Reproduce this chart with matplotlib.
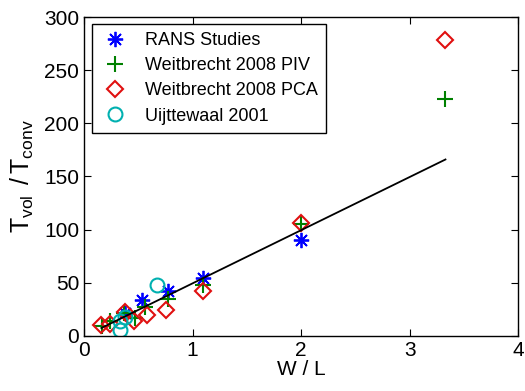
import matplotlib
matplotlib.use("Agg")
import matplotlib.pyplot as plt

plt.rcParams['font.family'] = ['Liberation Sans', 'DejaVu Sans']
plt.rcParams['mathtext.fontset'] = 'custom'
plt.rcParams['mathtext.rm'] = 'Liberation Sans'
plt.rcParams['mathtext.it'] = 'Liberation Sans'

# RANS Studies
rans_x = [0.38, 0.53, 0.77, 1.1, 2.0]
rans_y = [22, 34, 42, 55, 90]
# Weitbrecht 2008 PIV
piv_x = [0.17, 0.24, 0.37, 0.47, 0.56, 0.77, 1.1, 2.0, 3.33]
piv_y = [9, 14, 22, 17, 27, 35, 48, 105, 223]
# Weitbrecht 2008 PCA
pca_x = [0.16, 0.24, 0.38, 0.46, 0.58, 0.76, 1.1, 2.0, 3.33]
pca_y = [10, 11, 23, 14, 20, 24, 42, 106, 278]
# Uijttewaal 2001
uij_x = [0.33, 0.33, 0.38, 0.67]
uij_y = [6, 14, 18, 48]
# fit line
fit_x = [0.16, 3.33]
fit_y = [7.5, 166]

fig = plt.figure(figsize=(5.25, 3.91), dpi=100)
ax = fig.add_axes([0.16, 0.1407, 0.827, 0.8158])

ax.plot(rans_x, rans_y, linestyle='none', marker=(8, 2, 0), color='#0000ff',
        markersize=11, markeredgewidth=1.3, label='RANS Studies')
ax.plot(piv_x, piv_y, linestyle='none', marker='+', color='#008000',
        markersize=12, markeredgewidth=1.5, label='Weitbrecht 2008 PIV')
ax.plot(pca_x, pca_y, linestyle='none', marker='D', color='#e01010',
        markersize=8, markerfacecolor='none', markeredgewidth=1.5, label='Weitbrecht 2008 PCA')
ax.plot(uij_x, uij_y, linestyle='none', marker='o', color='#00b0b0',
        markersize=10, markerfacecolor='none', markeredgewidth=1.5, label='Uijttewaal 2001')
ax.plot(fit_x, fit_y, color='black', linewidth=1.3, zorder=5)

ax.set_xlim(0, 4)
ax.set_ylim(0, 300)
ax.set_xticks([0, 1, 2, 3, 4])
ax.set_yticks([0, 50, 100, 150, 200, 250, 300])
ax.tick_params(direction='in', labelsize=15, length=5, top=True, right=True)
for s in ax.spines.values():
    s.set_linewidth(1.0)

ax.set_xlabel('W / L', fontsize=15, labelpad=0)
ax.set_ylabel(r'$\mathregular{T_{vol}\ \,/\,T_{conv}}$', fontsize=18, labelpad=6)

leg = ax.legend(loc='upper left', bbox_to_anchor=(0.018, 0.978), fontsize=13,
                frameon=True, fancybox=False, edgecolor='black', framealpha=1,
                borderaxespad=0, handletextpad=0.8, borderpad=0.45, labelspacing=0.45,
                handlelength=1.7)
leg.get_frame().set_linewidth(1.0)

fig.savefig('out.png', dpi=100)
